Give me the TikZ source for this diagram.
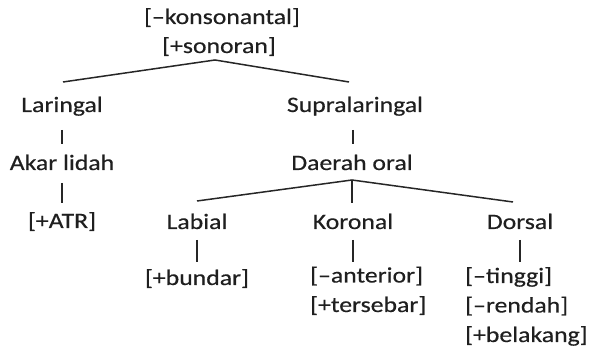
\documentclass[tikz,border=0pt]{standalone}
\usepackage{fontspec}
\setmainfont{Carlito}[FakeStretch=1.17,FakeBold=0.4]
\begin{document}
\begin{tikzpicture}[x=1pt,y=-1pt,
  lbl/.style={inner sep=0pt,anchor=base,text=black!88,font=\fontsize{22}{29.5}\selectfont},
  lblL/.style={lbl,anchor=base west,align=left},
  edge/.style={draw=black!85,line width=1.5pt},
  bar/.style={draw=black!85,line width=2pt}]
\useasboundingbox (0,0) rectangle (590,352);
% top
\node[lbl] (k) at (222,24) {[–konsonantal]};
\node[lbl] (s) at (219,53) {[+sonoran]};
\coordinate (top) at (215,60);
\coordinate (lar) at (63,82);
\coordinate (sup) at (349,82);
\draw[edge] (lar) -- (top) -- (sup);
% left branch
\node[lbl] (laringal) at (62,112) {Laringal};
\node[lbl] (akar) at (62,170) {Akar lidah};
\node[lbl] (atr) at (62,228) {[+ATR]};
\draw[bar] (62,130) -- (62,144);
\draw[bar] (62,183) -- (62,203);
% right branch
\node[lbl] (supra) at (355,112) {Supralaringal};
\node[lbl] (daerah) at (352,170) {Daerah oral};
\draw[bar] (353,130) -- (353,144);
\coordinate (apex) at (352,180);
\coordinate (lab) at (197,201);
\coordinate (kor) at (352,203);
\coordinate (dor) at (513,202);
\draw[edge] (lab) -- (apex) -- (dor);
\draw[bar] (apex) -- (kor);
% bottom nodes
\node[lbl] (labial) at (197,229) {Labial};
\node[lbl] (koronal) at (353,229) {Koronal};
\node[lbl] (dorsal) at (520,229) {Dorsal};
\draw[bar] (197,240) -- (197,262);
\draw[bar] (353,240) -- (353,262);
\draw[bar] (520,240) -- (520,262);
\node[lbl] (bundar) at (197,285) {[+bundar]};
\node[lblL] (anterior) at (310,312) {[–anterior]\\{}[+tersebar]};
\node[lblL] (tinggi) at (465,342) {[–tinggi]\\{}[–rendah]\\{}[+belakang]};
\end{tikzpicture}
\end{document}
